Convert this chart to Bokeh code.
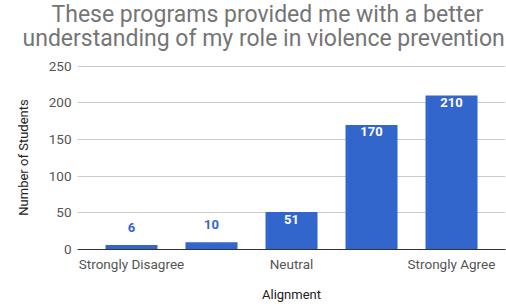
from bokeh.plotting import figure
from bokeh.models import ColumnDataSource, Range1d, FixedTicker, LabelSet, Title
from bokeh.core.properties import value
from bokeh.embed import file_html
from bokeh.resources import INLINE

# ---- data ----
categories = ["Strongly Disagree", "Disagree", "Neutral", "Agree", "Strongly Agree"]
students = [6, 10, 51, 170, 210]
shown_tick_labels = ["Strongly Disagree", "Neutral", "Strongly Agree"]
y_ticks = [0, 50, 100, 150, 200, 250]
title_lines = ["These programs provided me with a better",
               "understanding of my role in violence prevention"]
x_title = "Alignment"
y_title = "Number of Students"

BLUE = "#3366cc"
FONT = "Roboto"

x = list(range(len(categories)))
inside = [v >= 30 for v in students]
src = ColumnDataSource(dict(
    x=x,
    top=students,
    label=[str(v) for v in students],
    color=["#ffffff" if i else BLUE for i in inside],
    off=[-7 if i else 18 for i in inside],
))

p = figure(width=506, height=304, output_backend="svg", toolbar_location=None,
           x_range=Range1d(-0.675, 4.675), y_range=Range1d(0, 251),
           min_border_left=77, min_border_right=1, min_border_top=65,
           min_border_bottom=54)
p.outline_line_color = None
p.background_fill_color = "white"
p.border_fill_color = "white"

p.vbar(x="x", top="top", width=0.65, source=src, fill_color=BLUE, line_color=None)

p.add_layout(LabelSet(x="x", y="top", text="label", source=src,
                      text_color="color", y_offset="off",
                      text_align="center", text_baseline="middle",
                      text_font=value(FONT), text_font_size=value("13px"),
                      text_font_style=value("bold")))

# axes
p.xaxis.ticker = FixedTicker(ticks=[categories.index(c) for c in shown_tick_labels])
p.xaxis.major_label_overrides = {categories.index(c): c for c in shown_tick_labels}
p.yaxis.ticker = FixedTicker(ticks=y_ticks)
for ax in (p.xaxis, p.yaxis):
    ax.major_tick_line_color = None
    ax.minor_tick_line_color = None
    ax.major_tick_out = 0
    ax.major_tick_in = 0
    ax.major_label_text_font = FONT
    ax.major_label_text_font_size = "13.5px"
    ax.major_label_text_color = "#555555"
    ax.axis_label_text_font = FONT
    ax.axis_label_text_font_size = "13px"
    ax.axis_label_text_font_style = "normal"
    ax.axis_label_text_color = "#222222"
p.xaxis.axis_label = x_title
p.yaxis.axis_label = y_title
p.xaxis.axis_line_color = "#333333"
p.yaxis.axis_line_color = None
p.xaxis.major_label_standoff = 6
p.yaxis.major_label_standoff = 6
p.xaxis.axis_label_standoff = 12
p.yaxis.axis_label_standoff = 15

p.xgrid.grid_line_color = None
p.ygrid.ticker = FixedTicker(ticks=y_ticks)
p.ygrid.grid_line_color = "#cccccc"

# two-line title, lower line added first (closest to the plot)
offsets = [-26, -55]
standoffs = [-38, 28]
for line, off, so in reversed(list(zip(title_lines, offsets, standoffs))):
    p.add_layout(Title(text=line, align="left", offset=off,
                       text_font=FONT, text_font_size="23px",
                       text_font_style="normal", text_color="#757575",
                       standoff=so), "above")

open("out.html", "w").write(file_html(p, INLINE))
